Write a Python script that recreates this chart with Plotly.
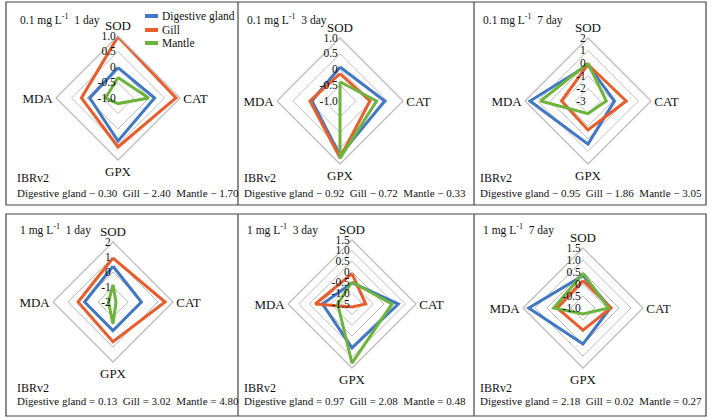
import plotly.graph_objects as go

categories = ["SOD", "CAT", "GPX", "MDA"]
series_names = ["Digestive gland", "Gill", "Mantle"]

# values in category order SOD, CAT, GPX, MDA
p1_digestive = [-0.02, 0.18, 0.39, -0.09]
p1_gill = [0.98, 0.87, 0.58, 0.18]
p1_mantle = [-0.34, -0.01, -0.82, -0.60]

p2_digestive = [0.08, 0.42, 0.72, -0.11]
p2_gill = [-0.13, -0.05, 0.80, -0.05]
p2_mantle = [-0.39, 0.16, 0.82, -1.00]

p3_digestive = [-0.15, -0.90, 0.42, 1.60]
p3_gill = [-0.10, 0.03, -0.70, -0.90]
p3_mantle = [0.00, -1.55, -2.00, 0.76]

p4_digestive = [0.38, -0.11, -0.09, -0.11]
p4_gill = [0.93, 1.47, 0.65, 0.33]
p4_mantle = [-0.85, -1.80, -0.55, -1.70]

p5_digestive = [-0.50, 0.67, 0.56, -0.12]
p5_gill = [-0.08, -0.86, -1.36, 0.22]
p5_mantle = [-0.47, 0.37, 1.27, -0.83]

p6_digestive = [0.35, 0.14, 0.50, 1.26]
p6_gill = [0.14, 0.17, -0.08, 0.08]
p6_mantle = [0.44, 0.07, -0.75, 0.22]

panel_titles = ["0.1 mg L<sup>-1</sup>  1 day", "0.1 mg L<sup>-1</sup>  3 day", "0.1 mg L<sup>-1</sup>  7 day",
                "1 mg L<sup>-1</sup>  1 day", "1 mg L<sup>-1</sup>  3 day", "1 mg L<sup>-1</sup>  7 day"]
ibr_texts = ["Digestive gland − 0.30  Gill − 2.40  Mantle − 1.70",
             "Digestive gland − 0.92  Gill − 0.72  Mantle − 0.33",
             "Digestive gland − 0.95  Gill − 1.86  Mantle − 3.05",
             "Digestive gland = 0.13  Gill = 3.02  Mantle = 4.80",
             "Digestive gland = 0.97  Gill = 2.08  Mantle = 0.48",
             "Digestive gland = 2.18  Gill = 0.02  Mantle = 0.27"]

p1_ticks = [-1.0, -0.5, 0, 0.5, 1.0]
p1_ticklabels = ["-1.0", "-0.5", "0", "0.5", "1.0"]
p2_ticks = [-1.0, -0.5, 0, 0.5, 1.0]
p2_ticklabels = ["-1.0", "-0.5", "0", "0.5", "1.0"]
p3_ticks = [-3, -2, -1, 0, 1, 2]
p3_ticklabels = ["-3", "-2", "-1", "0", "1", "2"]
p4_ticks = [-2, -1, 0, 1, 2]
p4_ticklabels = ["-2", "-1", "0", "1", "2"]
p5_ticks = [-1.5, -1.0, -0.5, 0, 0.5, 1.0, 1.5]
p5_ticklabels = ["-1.5", "-1.0", "-0.5", "0", "0.5", "1.0", "1.5"]
p6_ticks = [-1.0, -0.5, 0, 0.5, 1.0, 1.5]
p6_ticklabels = ["-1.0", "-0.5", "0", "0.5", "1.0", "1.5"]

panels = [
    (p1_digestive, p1_gill, p1_mantle, p1_ticks, p1_ticklabels),
    (p2_digestive, p2_gill, p2_mantle, p2_ticks, p2_ticklabels),
    (p3_digestive, p3_gill, p3_mantle, p3_ticks, p3_ticklabels),
    (p4_digestive, p4_gill, p4_mantle, p4_ticks, p4_ticklabels),
    (p5_digestive, p5_gill, p5_mantle, p5_ticks, p5_ticklabels),
    (p6_digestive, p6_gill, p6_mantle, p6_ticks, p6_ticklabels),
]

W, H = 717, 419
colors = ["#4277c4", "#e85d2c", "#6db43c"]
grid_color = "#bdbdbd"
FONT = "Liberation Serif"

# polar centres / radius in pixels
geom = [(118, 98, 62), (340, 101, 63), (588, 101, 63),
        (113, 302, 60), (352, 304, 64), (583, 308, 60)]
col_x = [15, 242, 478]
title_y = [20, 229]
ibr_y = [178, 388]
line_y = [193, 401]

fig = go.Figure()
layout_polars = {}
for i, (dg, gi, ma, tv, tt) in enumerate(panels):
    pname = "polar" if i == 0 else f"polar{i+1}"
    for vals, name, c in zip([dg, gi, ma], series_names, colors):
        fig.add_trace(go.Scatterpolar(
            r=list(vals) + [vals[0]], theta=categories + [categories[0]],
            mode="lines", line=dict(color=c, width=3), name=name,
            subplot=pname, showlegend=False))
    cx, cy, r = geom[i]
    layout_polars[pname] = dict(
        domain=dict(x=[(cx - r) / W, (cx + r) / W], y=[1 - (cy + r) / H, 1 - (cy - r) / H]),
        gridshape="linear",
        bgcolor="rgba(0,0,0,0)",
        angularaxis=dict(type="category", categoryarray=categories, direction="clockwise",
                         rotation=90, showgrid=False, showline=True, linecolor=grid_color,
                         linewidth=1.3, ticks="", tickfont=dict(family=FONT, size=13, color="#111")),
        radialaxis=dict(range=[tv[0], tv[-1]], tickvals=tv, ticktext=tt, angle=90, tickangle=90,
                        side="counterclockwise", showline=False, ticks="", gridcolor=grid_color,
                        gridwidth=1.3, layer="above traces",
                        tickfont=dict(family=FONT, size=11.5, color="#111")),
    )

annotations = []
for i in range(6):
    col, row = i % 3, i // 3
    x0 = col_x[col]
    annotations.append(dict(x=(x0 + 3) / W, y=1 - title_y[row] / H, xref="paper", yref="paper",
                            text=panel_titles[i], showarrow=False, xanchor="left", yanchor="middle",
                            font=dict(family=FONT, size=11.5, color="#111")))
    annotations.append(dict(x=x0 / W, y=1 - ibr_y[row] / H, xref="paper", yref="paper",
                            text="IBRv2", showarrow=False, xanchor="left", yanchor="middle",
                            font=dict(family=FONT, size=12, color="#111")))
    annotations.append(dict(x=x0 / W, y=1 - line_y[row] / H, xref="paper", yref="paper",
                            text=ibr_texts[i], showarrow=False, xanchor="left", yanchor="middle",
                            font=dict(family=FONT, size=11, color="#111")))

# legend (drawn in panel 1)
shapes = []
leg_y = [16, 30, 43]
for name, c, ly in zip(series_names, colors, leg_y):
    shapes.append(dict(type="line", xref="paper", yref="paper", x0=145 / W, x1=158 / W,
                       y0=1 - ly / H, y1=1 - ly / H, line=dict(color=c, width=4)))
    annotations.append(dict(x=160 / W, y=1 - ly / H, xref="paper", yref="paper", text=name,
                            showarrow=False, xanchor="left", yanchor="middle",
                            font=dict(family=FONT, size=11.5, color="#111")))

# panel frames
rows_y = [(2, 205), (214, 416)]
for (y0, y1) in rows_y:
    shapes.append(dict(type="rect", xref="paper", yref="paper", x0=6 / W, x1=706 / W,
                       y0=1 - y1 / H, y1=1 - y0 / H, line=dict(color="#444", width=1.2)))
    for xv in [238, 474]:
        shapes.append(dict(type="line", xref="paper", yref="paper", x0=xv / W, x1=xv / W,
                           y0=1 - y1 / H, y1=1 - y0 / H, line=dict(color="#444", width=1.2)))

fig.update_layout(width=W, height=H, margin=dict(l=0, r=0, t=0, b=0),
                  paper_bgcolor="white", plot_bgcolor="white", showlegend=False,
                  annotations=annotations, shapes=shapes, **layout_polars)
fig.write_html("out.html", config={"displayModeBar": False},
               post_script="document.body.style.margin='0';")
